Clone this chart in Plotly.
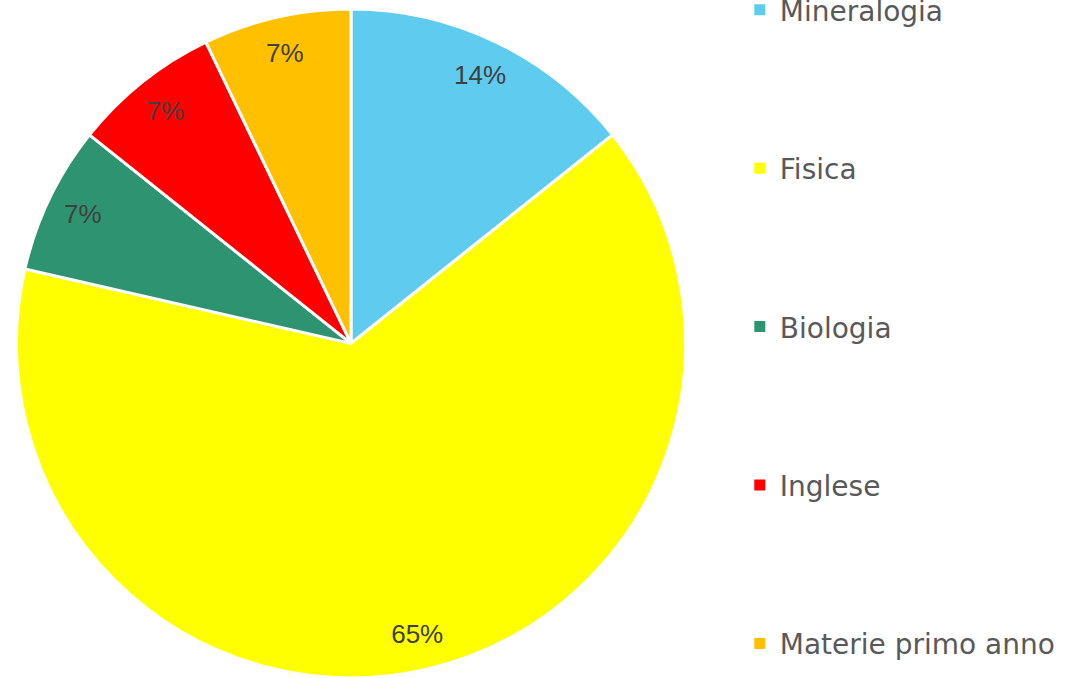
import plotly.graph_objects as go

categories = ["Mineralogia", "Fisica", "Biologia", "Inglese", "Materie primo anno"]
values = [2, 9, 1, 1, 1]
pct_labels = ["14%", "65%", "7%", "7%", "7%"]
colors = ["#5ECBEF", "#FFFF00", "#2E9370", "#FF0000", "#FFC000"]

pie_domain = dict(x=[0.0155, 0.643], y=[0.0, 0.987])

fig = go.Figure()
# coloured slices
fig.add_trace(go.Pie(
    labels=categories,
    values=values,
    textinfo="none",
    sort=False,
    direction="clockwise",
    rotation=0,
    marker=dict(colors=colors, line=dict(color="white", width=3)),
    domain=pie_domain,
    showlegend=False,
    hoverinfo="label+percent",
))
# transparent ring carrying the percentage labels near the rim
fig.add_trace(go.Pie(
    labels=categories,
    values=values,
    text=pct_labels,
    textinfo="text",
    textposition="inside",
    insidetextorientation="horizontal",
    hole=0.78,
    sort=False,
    direction="clockwise",
    rotation=0,
    marker=dict(colors=["rgba(0,0,0,0)"] * len(values), line=dict(width=0)),
    textfont=dict(family="Liberation Sans, Arial, sans-serif", size=26, color="#404040"),
    domain=pie_domain,
    showlegend=False,
    hoverinfo="skip",
))

for i, (cat, col) in enumerate(zip(categories, colors)):
    fig.add_trace(go.Scatter(
        x=[None], y=[None], mode="markers", name=cat,
        marker=dict(symbol="square", size=11, color=col),
        legendgroup=f"g{i}", showlegend=True,
    ))

fig.update_layout(
    width=1066, height=678,
    margin=dict(l=0, r=0, t=0, b=0, autoexpand=False),
    paper_bgcolor="white", plot_bgcolor="white",
    xaxis=dict(visible=False), yaxis=dict(visible=False),
    legend=dict(
        x=0.694, y=1.022, xanchor="left", yanchor="top",
        font=dict(family="DejaVu Sans, Verdana, sans-serif", size=28, color="#595959"),
        tracegroupgap=119, itemwidth=30,
        bgcolor="rgba(0,0,0,0)",
        maxheight=800,
    ),
)

fig.write_html(
    "out.html",
    config={"displayModeBar": False},
    post_script="document.body.style.margin='0';document.body.style.overflow='hidden';",
)
